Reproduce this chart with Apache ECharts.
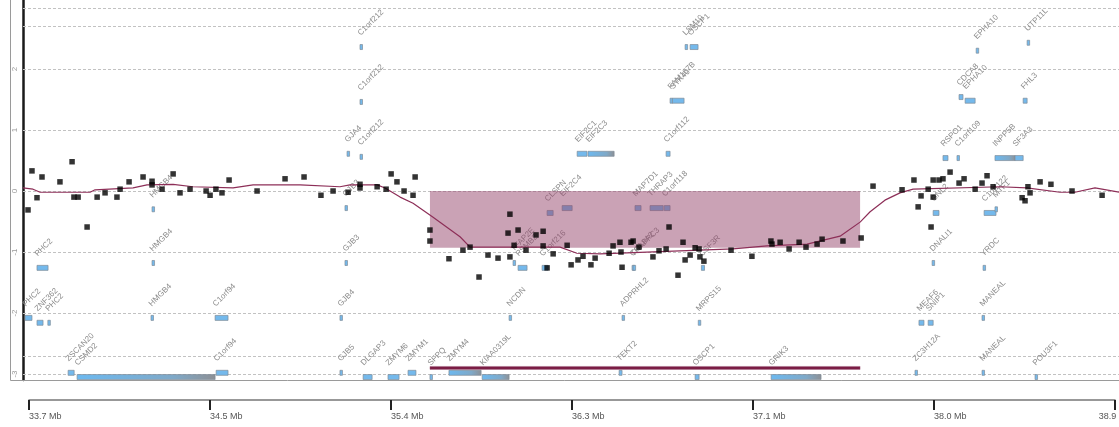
<!DOCTYPE html>
<html>
<head>
<meta charset="utf-8">
<script src="https://cdn.jsdelivr.net/npm/echarts@6/dist/echarts.min.js"></script>
<style>
  html, body { margin: 0; padding: 0; background: #fff; }
  #chart { width: 1119px; height: 427px; }
</style>
</head>
<body>
<div id="chart"></div>
<script>
// probe positions (Mb) and log ratios
const probePos = [33.695, 33.714, 33.738, 33.762, 33.848, 33.906, 33.915, 33.935, 33.978, 34.026,
  34.064, 34.121, 34.136, 34.179, 34.246, 34.289, 34.289, 34.337, 34.390, 34.423,
  34.471, 34.548, 34.567, 34.595, 34.624, 34.658, 34.792, 34.926, 35.017, 35.098,
  35.156, 35.228, 35.285, 35.285, 35.367, 35.410, 35.434, 35.462, 35.496, 35.539,
  35.549, 35.620, 35.620, 35.711, 35.778, 35.812, 35.855, 35.898, 35.946, 35.994,
  36.003, 36.003, 36.023, 36.042, 36.080, 36.128, 36.162, 36.162, 36.181, 36.210,
  36.277, 36.296, 36.329, 36.353, 36.391, 36.411, 36.478, 36.497, 36.530, 36.535,
  36.540, 36.583, 36.593, 36.621, 36.688, 36.717, 36.751, 36.765, 36.808, 36.832,
  36.842, 36.866, 36.890, 36.909, 36.913, 36.932, 37.062, 37.162, 37.253, 37.258,
  37.297, 37.340, 37.388, 37.421, 37.474, 37.498, 37.598, 37.685, 37.742, 37.881,
  37.938, 37.958, 37.972, 38.006, 38.020, 38.030, 38.030, 38.058, 38.077, 38.111,
  38.154, 38.178, 38.231, 38.264, 38.288, 38.317, 38.456, 38.470, 38.484, 38.494,
  38.542, 38.594, 38.695, 38.839]
const probeRatio = [-0.31, 0.33, -0.11, 0.23, 0.15, 0.48, -0.10, -0.10, -0.59, -0.10,
  -0.03, -0.10, 0.03, 0.15, 0.23, 0.16, 0.10, 0.03, 0.28, -0.03,
  0.03, 0.00, -0.07, 0.03, -0.03, 0.18, 0.00, 0.20, 0.23, -0.07,
  0.00, -0.02, 0.11, 0.05, 0.07, 0.03, 0.28, 0.15, 0.00, -0.07,
  0.23, -0.64, -0.82, -1.11, -0.97, -0.92, -1.41, -1.05, -1.10, -0.69,
  -0.38, -1.08, -0.89, -0.64, -0.97, -0.72, -0.90, -0.66, -1.26, -1.03,
  -0.89, -1.21, -1.13, -1.07, -1.21, -1.10, -1.02, -0.90, -0.84, -1.00,
  -1.25, -0.84, -0.82, -0.92, -1.08, -0.98, -0.95, -0.59, -1.38, -0.84,
  -1.13, -1.05, -0.93, -0.95, -1.08, -1.15, -0.97, -1.07, -0.82, -0.87,
  -0.84, -0.95, -0.84, -0.92, -0.87, -0.79, -0.82, -0.77, 0.08, 0.02,
  0.18, -0.26, -0.08, 0.03, -0.59, 0.18, -0.10, 0.18, 0.20, 0.31,
  0.13, 0.20, 0.03, 0.13, 0.25, 0.07, -0.11, -0.16, 0.07, -0.03,
  0.15, 0.11, 0.00, -0.07]

// segmentation line
const segPos = [33.671, 33.719, 33.753, 33.992, 34.016, 34.198, 34.265, 34.390, 34.485, 34.677,
  34.773, 34.998, 35.189, 35.237, 35.367, 35.405, 35.477, 35.539, 35.635, 35.764,
  35.812, 36.243, 36.324, 36.435, 37.071, 37.234, 37.426, 37.584, 37.680, 37.728,
  37.799, 37.871, 37.934, 38.350, 38.479, 38.637, 38.709, 38.805, 38.920]
const segLevel = [0.05, 0.03, -0.02, -0.02, 0.02, 0.05, 0.10, 0.11, 0.07, 0.05,
  0.10, 0.10, 0.07, 0.10, 0.10, 0.05, -0.10, -0.20, -0.43, -0.75,
  -0.92, -0.92, -1.02, -1.03, -0.95, -0.90, -0.87, -0.74, -0.51, -0.34,
  -0.15, -0.03, 0.03, 0.07, 0.05, -0.02, -0.02, 0.05, -0.02]

// called loss region
const regions = [[35.62, 37.68, -0.93]]
const regionBarRow = -2.9

const gridLevels = [3, 2.7, 2, 1, 0, -1, -2, -2.7, -3]
const yLabels = [2, 1, 0, -1, -2, -3]
const tickPos = [33.7, 34.5667, 35.4333, 36.3, 37.1667, 38.0333, 38.9]
const tickLabels = ['33.7 Mb', '34.5 Mb', '35.4 Mb', '36.3 Mb', '37.1 Mb', '38.0 Mb', '38.9 Mb']

// genes: name, start, end, track row
const genes = [
  ['C1orf212', 35.285, 35.295, 2.36],
  ['LSM10', 36.842, 36.851, 2.36],
  ['OSCP1', 36.866, 36.904, 2.36],
  ['EPHA10', 38.236, 38.245, 2.30],
  ['UTP11L', 38.480, 38.490, 2.43],
  ['C1orf212', 35.285, 35.295, 1.46],
  ['FAM167B', 36.770, 36.780, 1.48],
  ['STK40', 36.781, 36.837, 1.48],
  ['CDCA8', 38.154, 38.173, 1.54],
  ['EPHA10', 38.183, 38.231, 1.48],
  ['FHL3', 38.461, 38.480, 1.48],
  ['GJA4', 35.223, 35.233, 0.61],
  ['C1orf212', 35.285, 35.295, 0.56],
  ['EIF2C1', 36.325, 36.372, 0.61],
  ['EIF2C3', 36.377, 36.502, 0.61],
  ['C1orf112', 36.751, 36.770, 0.61],
  ['RSPO1', 38.077, 38.101, 0.54],
  ['C1orf109', 38.144, 38.154, 0.54],
  ['INPP5B', 38.326, 38.422, 0.54],
  ['SF3A3', 38.422, 38.461, 0.54],
  ['HMGB4', 34.289, 34.299, -0.30],
  ['GJB3', 35.213, 35.223, -0.28],
  ['CLSPN', 36.181, 36.210, -0.36],
  ['EIF2C4', 36.253, 36.301, -0.28],
  ['MAP7D1', 36.602, 36.631, -0.28],
  ['THRAP3', 36.674, 36.737, -0.28],
  ['C1orf118', 36.742, 36.770, -0.28],
  ['GNL2', 38.030, 38.058, -0.36],
  ['C1orf122', 38.274, 38.331, -0.36],
  ['MTF1', 38.326, 38.336, -0.30],
  ['PHC2', 33.738, 33.791, -1.26],
  ['HMGB4', 34.289, 34.299, -1.18],
  ['GJB3', 35.213, 35.223, -1.18],
  ['TFAP2E', 36.018, 36.028, -1.18],
  ['PSMB2', 36.042, 36.085, -1.26],
  ['C1orf216', 36.157, 36.186, -1.26],
  ['COL8A2', 36.588, 36.598, -1.26],
  ['TRAPPC3', 36.593, 36.598, -1.26],
  ['CSF3R', 36.920, 36.935, -1.26],
  ['DNALI1', 38.025, 38.035, -1.18],
  ['YRDC', 38.269, 38.279, -1.26],
  ['PHC2', 33.681, 33.714, -2.08],
  ['ZNF362', 33.738, 33.767, -2.16],
  ['PHC2', 33.790, 33.795, -2.16],
  ['HMGB4', 34.284, 34.294, -2.08],
  ['C1orf94', 34.591, 34.653, -2.08],
  ['GJB4', 35.189, 35.199, -2.08],
  ['NCDN', 35.999, 36.009, -2.08],
  ['ADPRHL2', 36.540, 36.550, -2.08],
  ['MRPS15', 36.905, 36.915, -2.16],
  ['MEAF6', 37.962, 37.986, -2.16],
  ['SNIP1', 38.006, 38.030, -2.16],
  ['MANEAL', 38.264, 38.274, -2.08],
  ['ZSCAN20', 33.887, 33.916, -2.98],
  ['CSMD2', 33.930, 34.591, -3.05],
  ['C1orf94', 34.596, 34.653, -2.98],
  ['GJB5', 35.189, 35.199, -2.98],
  ['DLGAP3', 35.300, 35.343, -3.05],
  ['ZMYM6', 35.419, 35.472, -3.05],
  ['ZMYM1', 35.515, 35.553, -2.98],
  ['SFPQ', 35.620, 35.630, -3.05],
  ['ZMYM4', 35.711, 35.865, -2.98],
  ['KIAA0319L', 35.870, 35.999, -3.05],
  ['TEKT2', 36.526, 36.540, -2.98],
  ['OSCP1', 36.890, 36.909, -3.05],
  ['GRIK3', 37.254, 37.493, -3.05],
  ['ZC3H12A', 37.943, 37.953, -2.98],
  ['MANEAL', 38.264, 38.274, -2.98],
  ['POU3F1', 38.518, 38.528, -3.05]
]

const xMin = 33.671, xMax = 38.92
const yMin = -3.098, yMax = 3.131

const chart = echarts.init(document.getElementById('chart'))

function renderGridLine(params, api) {
  const y = Math.round(api.coord([api.value(0), api.value(1)])[1]) + 0.5
  const cs = params.coordSys
  return {
    type: 'line',
    shape: { x1: cs.x, y1: y, x2: cs.x + cs.width, y2: y },
    style: { stroke: '#c2c2c2', lineDash: [3, 2], lineWidth: 1 }
  }
}

function renderGene(params, api) {
  const g = genes[params.dataIndex]
  const a = api.coord([g[1], g[3]])
  const b = api.coord([g[2], g[3]])
  const w = Math.max(b[0] - a[0], 2.5)
  const fill = w > 20
    ? new echarts.graphic.LinearGradient(0, 0, 1, 0, [
        { offset: 0, color: '#6cb9f0' },
        { offset: 0.7, color: '#7fa9c8' },
        { offset: 1, color: '#8d9095' }
      ])
    : '#74b9ec'
  return {
    type: 'group',
    children: [
      {
        type: 'rect',
        shape: { x: a[0], y: a[1] - 2.5, width: w, height: 5 },
        style: { fill: fill, stroke: '#7f8c98', lineWidth: 0.7 }
      },
      {
        type: 'text',
        x: a[0] + 2,
        y: a[1] - 10,
        rotation: Math.PI / 4,
        style: {
          text: g[0],
          fill: '#8c8c8c',
          font: '8px "Liberation Sans", Arial, sans-serif',
          align: 'left',
          verticalAlign: 'bottom'
        }
      }
    ]
  }
}

function renderRegion(params, api) {
  const top = api.coord([api.value(0), 0])
  const bottom = api.coord([api.value(1), api.value(2)])
  const barL = api.coord([api.value(0), regionBarRow])
  return {
    type: 'group',
    children: [
      {
        type: 'rect',
        shape: { x: top[0], y: top[1], width: bottom[0] - top[0], height: bottom[1] - top[1] },
        style: { fill: 'rgba(150, 70, 108, 0.5)' }
      },
      {
        type: 'rect',
        shape: { x: barL[0], y: barL[1] - 1.5, width: bottom[0] - top[0], height: 3 },
        style: { fill: '#7a1c44', stroke: 'rgba(160,90,120,0.6)', lineWidth: 0.6 }
      }
    ]
  }
}

const option = {
  animation: false,
  backgroundColor: '#fff',
  grid: [
    { left: 23, right: 0, top: 0, height: 380, containLabel: false, outerBoundsMode: 'none' },
    { left: 29, right: 4, top: 399, height: 1, containLabel: false, outerBoundsMode: 'none' }
  ],
  xAxis: [
    { type: 'value', gridIndex: 0, min: xMin, max: xMax, show: false },
    {
      type: 'value',
      gridIndex: 1,
      min: 33.7,
      max: 38.9,
      position: 'bottom',
      axisLine: { show: true, lineStyle: { color: '#777', width: 1.5 } },
      axisTick: { show: true, customValues: tickPos, length: 10, lineStyle: { color: '#222', width: 2 } },
      axisLabel: {
        show: true,
        customValues: tickPos,
        align: 'left',
        alignMaxLabel: 'center',
        margin: 12,
        fontSize: 9,
        color: '#555',
        fontFamily: 'Liberation Sans',
        showMaxLabel: true,
        showMinLabel: true,
        hideOverlap: false,
        formatter: function (v) {
          let best = 0
          tickPos.forEach((t, i) => { if (Math.abs(t - v) < Math.abs(tickPos[best] - v)) best = i })
          return tickLabels[best]
        }
      },
      splitLine: { show: false }
    }
  ],
  yAxis: [
    {
      type: 'value',
      gridIndex: 0,
      min: yMin,
      max: yMax,
      axisLine: { show: true, lineStyle: { color: '#1a1a1a', width: 2.5 } },
      axisTick: { show: false },
      axisLabel: {
        show: true,
        customValues: yLabels,
        rotate: 90,
        margin: 4,
        fontSize: 8,
        color: '#9a9a9a',
        fontFamily: 'Liberation Sans'
      },
      splitLine: { show: false }
    },
    { type: 'value', gridIndex: 1, show: false }
  ],
  graphic: [
    {
      type: 'polyline',
      shape: { points: [[10.5, 0], [10.5, 380.5], [1119, 380.5]] },
      style: { stroke: '#9a9a9a', lineWidth: 1, fill: null },
      z: 10
    }
  ],
  series: [
    {
      type: 'custom',
      name: 'grid',
      xAxisIndex: 0,
      yAxisIndex: 0,
      z: 1,
      silent: true,
      renderItem: renderGridLine,
      data: gridLevels.map(v => [xMin, v]),
      encode: { x: 0, y: 1 }
    },
    {
      type: 'custom',
      name: 'genes',
      xAxisIndex: 0,
      yAxisIndex: 0,
      z: 2,
      silent: true,
      renderItem: renderGene,
      data: genes.map(g => [g[1], g[2], g[3]]),
      encode: { x: [0, 1], y: 2 }
    },
    {
      type: 'custom',
      name: 'region',
      xAxisIndex: 0,
      yAxisIndex: 0,
      z: 3,
      silent: true,
      renderItem: renderRegion,
      data: regions,
      encode: { x: [0, 1], y: 2 }
    },
    {
      type: 'line',
      name: 'segments',
      xAxisIndex: 0,
      yAxisIndex: 0,
      z: 4,
      symbol: 'none',
      lineStyle: { color: '#8d2f58', width: 1.2 },
      data: segPos.map((x, i) => [x, segLevel[i]])
    },
    {
      type: 'scatter',
      name: 'probes',
      xAxisIndex: 0,
      yAxisIndex: 0,
      z: 5,
      symbol: 'rect',
      symbolSize: 5.5,
      itemStyle: { color: '#000' },
      data: probePos.map((x, i) => [x, probeRatio[i]])
    }
  ]
}

chart.setOption(option)
</script>
</body>
</html>
